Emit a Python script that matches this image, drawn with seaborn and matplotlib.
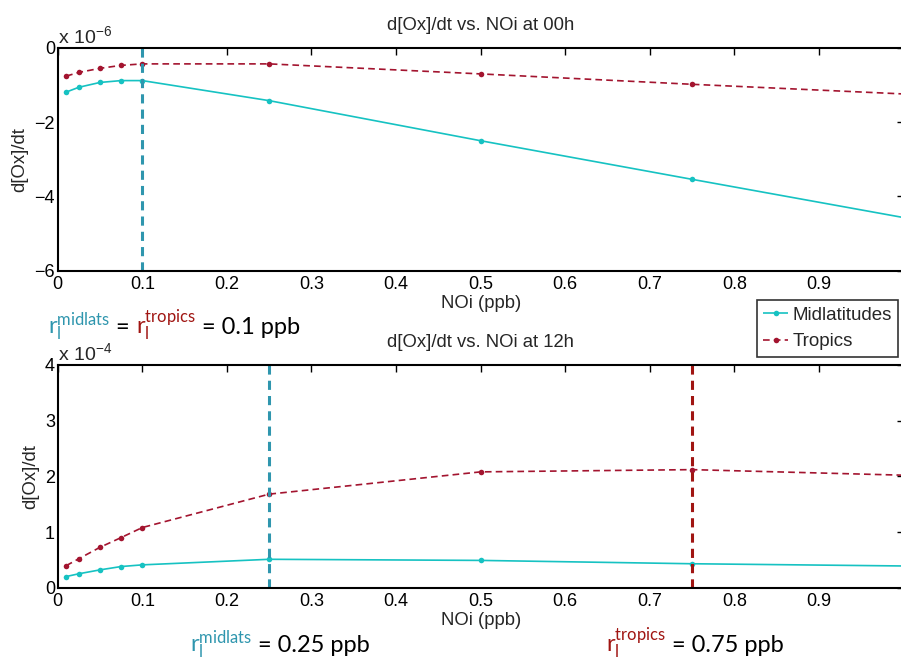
import numpy as np
import pandas as pd
import seaborn as sns
import matplotlib.pyplot as plt
from matplotlib.offsetbox import TextArea, HPacker, AnnotationBbox

# NOi (ppb)
noi = [0.01, 0.025, 0.05, 0.075, 0.1, 0.25, 0.5, 0.75, 1.0]
# d[Ox]/dt at 00h, in units of 1e-6
mid_00h = [-1.19, -1.06, -0.93, -0.88, -0.88, -1.42, -2.50, -3.54, -4.57]
trop_00h = [-0.76, -0.66, -0.55, -0.47, -0.43, -0.43, -0.70, -0.98, -1.24]
# d[Ox]/dt at 12h, in units of 1e-4
mid_12h = [0.20, 0.25, 0.32, 0.38, 0.41, 0.51, 0.49, 0.43, 0.39]
trop_12h = [0.395, 0.52, 0.725, 0.90, 1.08, 1.68, 2.08, 2.12, 2.02]

regions = ["Midlatitudes", "Tropics"]
colors = {"Midlatitudes": "#16c2c2", "Tropics": "#a3142f"}
teal = "#2f96ae"
darkred = "#a01512"

sns.set_theme(style="white")
plt.rcParams['font.family'] = ['Liberation Sans', 'DejaVu Sans']
plt.rcParams['mathtext.fontset'] = 'custom'
plt.rcParams['mathtext.rm'] = 'Lato'
plt.rcParams['mathtext.sf'] = 'Liberation Sans'
plt.rcParams['mathtext.it'] = 'Lato:italic'
plt.rcParams['mathtext.bf'] = 'Lato:bold'


def make_df(mid, trop):
    return pd.DataFrame({
        "NOi": noi + noi,
        "val": mid + trop,
        "region": [regions[0]] * len(noi) + [regions[1]] * len(noi),
    })


fig = plt.figure(figsize=(9.01, 6.61), dpi=100)
ax1 = fig.add_axes([0.064, 0.5905, 0.939, 0.337])
ax2 = fig.add_axes([0.064, 0.1109, 0.939, 0.337])

panels = [
    (ax1, make_df(mid_00h, trop_00h), "00h", (-6, 0), [-6, -4, -2, 0], "-6"),
    (ax2, make_df(mid_12h, trop_12h), "12h", (0, 4), [0, 1, 2, 3, 4], "-4"),
]

for ax, df, hour, ylim, yticks, expo in panels:
    sns.lineplot(data=df, x="NOi", y="val", hue="region", style="region",
                 palette=colors, markers=["o", "o"], dashes=[(1, 0), (4, 2.5)],
                 markersize=4, markeredgewidth=0, linewidth=1.2, ax=ax,
                 legend=(ax is ax1))
    ax.set_xlim(0, 1.0)
    ax.set_ylim(*ylim)
    ax.set_xticks(np.arange(0, 1.0, 0.1))
    ax.set_xticklabels(["0", "0.1", "0.2", "0.3", "0.4", "0.5", "0.6", "0.7", "0.8", "0.9"])
    ax.set_yticks(yticks)
    ax.set_yticklabels([str(v).replace("-", "\u2212") for v in yticks])
    ax.tick_params(direction="in", length=5, width=1, top=True, right=True,
                   labelsize=13, colors="black")
    ax.tick_params(axis="x", pad=4)
    ax.tick_params(axis="y", pad=2)
    for sp in ax.spines.values():
        sp.set_linewidth(1.5)
        sp.set_color("black")
    ax.set_title(f"d[Ox]/dt vs. NOi at {hour}", fontsize=13.3, pad=13)
    ax.set_xlabel("NOi (ppb)", fontsize=13.3, labelpad=1)
    ax.set_ylabel("d[Ox]/dt", fontsize=13.3, labelpad=4)
    ax.text(0.0, 1.005, r"x 10$^{\mathsf{%s}}$" % expo.replace("-", "\u2212"),
            transform=ax.transAxes, fontsize=14, ha="left", va="bottom")

# threshold lines
ax1.axvline(0.1, color=teal, ls=(0, (3, 2)), lw=2.2)
ax2.axvline(0.25, color=teal, ls=(0, (3, 2)), lw=2.2)
ax2.axvline(0.75, color=darkred, ls=(0, (3, 2)), lw=2.2)

# legend between the panels
handles, labels = ax1.get_legend_handles_labels()
ax1.get_legend().remove()
leg = fig.legend(handles, labels, loc="upper left", bbox_to_anchor=(0.840, 0.546),
                 fontsize=13.5, frameon=True, fancybox=False, edgecolor="black",
                 handlelength=1.3, handletextpad=0.25, borderpad=0.35,
                 labelspacing=0.5, borderaxespad=0)
leg.get_frame().set_linewidth(1.2)


def rlabel(parts, xy):
    areas = [TextArea(s, textprops=dict(color=c, fontsize=17, family="Lato"))
             for s, c in parts]
    box = HPacker(children=areas, align="baseline", pad=0, sep=0)
    ab = AnnotationBbox(box, xy, xycoords="figure fraction", box_alignment=(0, 0),
                        frameon=False, pad=0)
    fig.add_artist(ab)


r_mid = r"$\mathrm{r}_\mathrm{l}^\mathrm{midlats}$"
r_trop = r"$\mathrm{r}_\mathrm{l}^\mathrm{tropics}$"

rlabel([(r_mid, teal), (" = ", "black"), (r_trop, darkred), (" = 0.1 ppb", "black")],
       (48 / 901, 1 - 343 / 661))
rlabel([(r_mid, teal), (" = 0.25 ppb", "black")], (190 / 901, 1 - 661 / 661))
rlabel([(r_trop, darkred), (" = 0.75 ppb", "black")], (606 / 901, 1 - 661 / 661))

fig.savefig("out.png", dpi=100)
